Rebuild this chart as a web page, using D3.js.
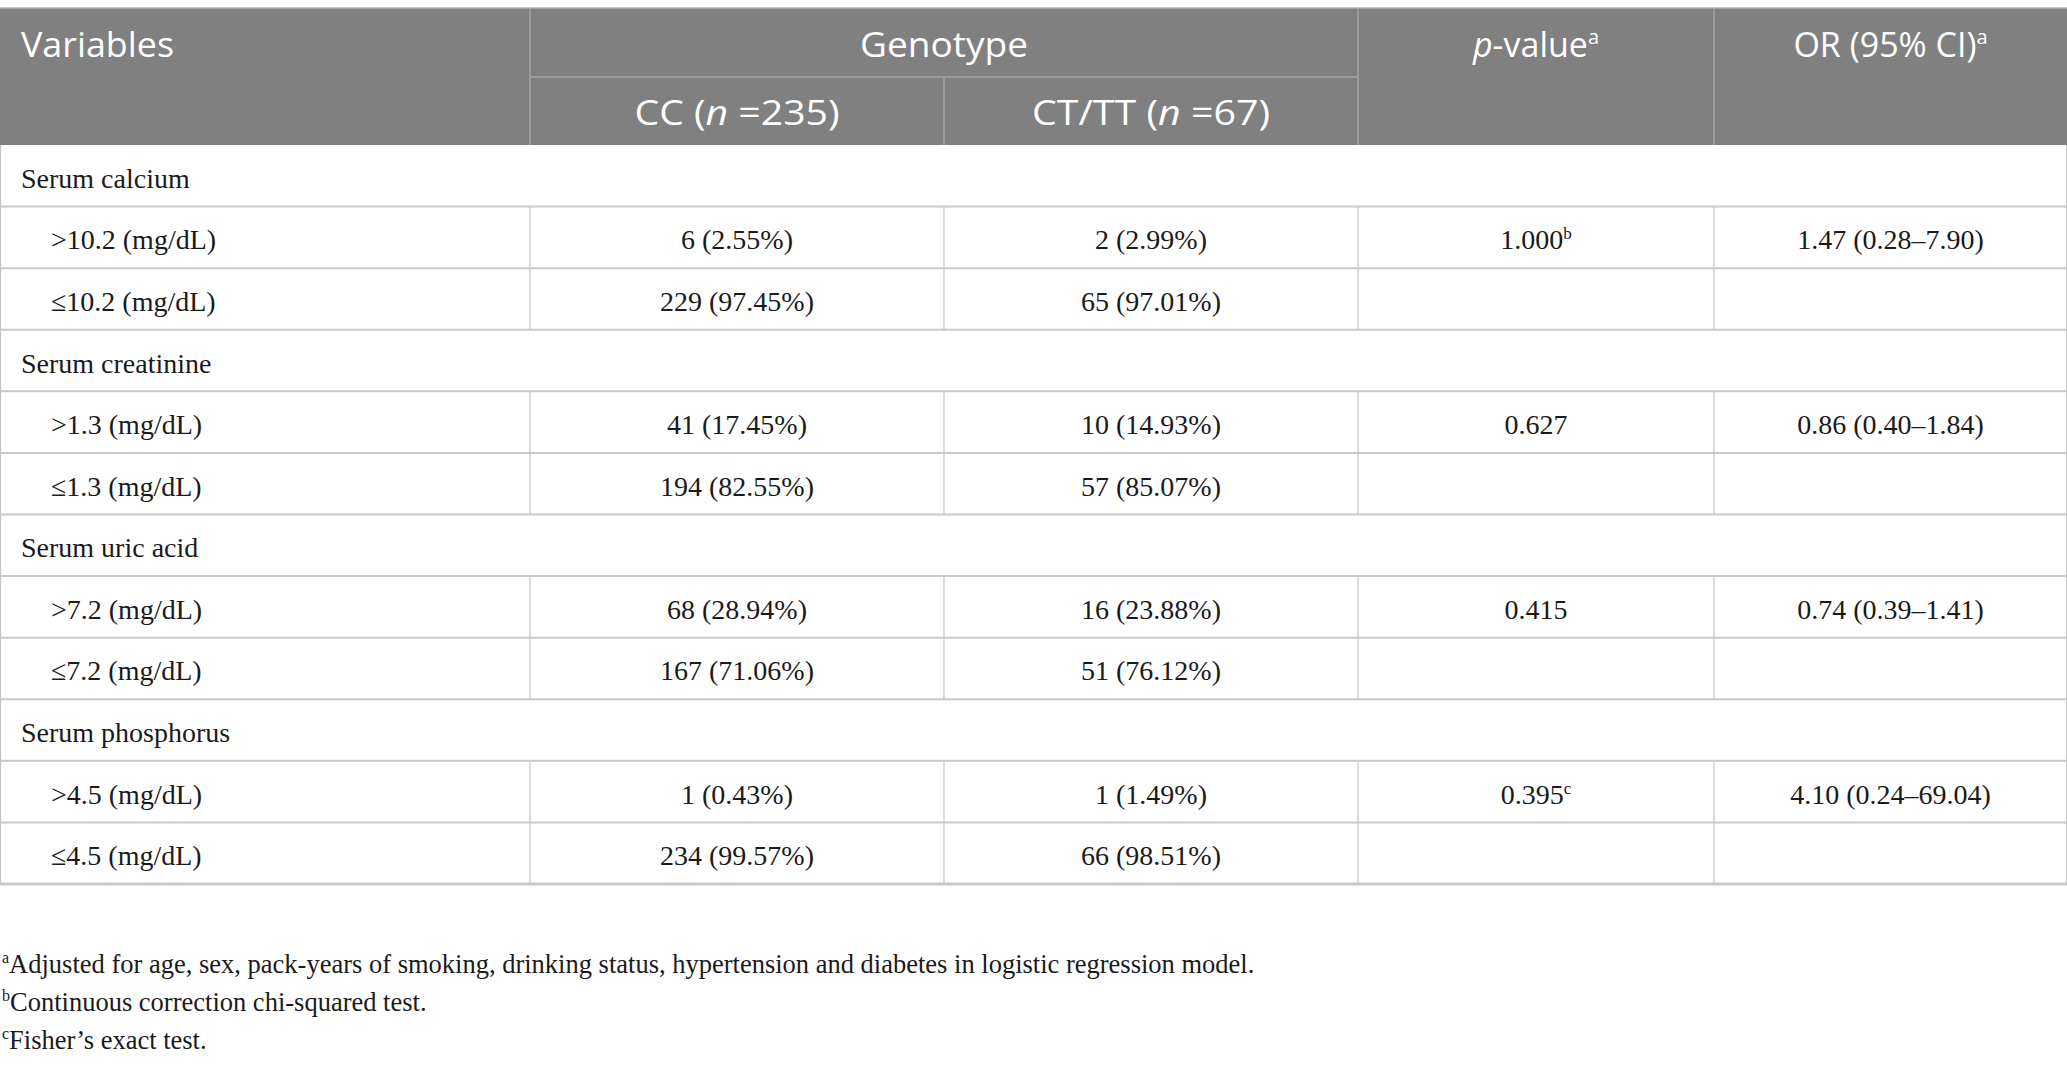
<!DOCTYPE html>
<html>
<head>
<meta charset="utf-8">
<script src="https://cdn.jsdelivr.net/npm/d3@7"></script>
<style>
    body { margin: 0; background: #ffffff; }
    svg { display: block; }
</style>
</head>
<body>
<div id="table"></div>
<script>
// table content
const groups = ["Serum calcium", "Serum creatinine", "Serum uric acid", "Serum phosphorus"];
const levels = [
    [">10.2 (mg/dL)", "≤10.2 (mg/dL)"],
    [">1.3 (mg/dL)", "≤1.3 (mg/dL)"],
    [">7.2 (mg/dL)", "≤7.2 (mg/dL)"],
    [">4.5 (mg/dL)", "≤4.5 (mg/dL)"]
];
const ccCounts = [6, 229, 41, 194, 68, 167, 1, 234];
const ccPct = [2.55, 97.45, 17.45, 82.55, 28.94, 71.06, 0.43, 99.57];
const ctCounts = [2, 65, 10, 57, 16, 51, 1, 66];
const ctPct = [2.99, 97.01, 14.93, 85.07, 23.88, 76.12, 1.49, 98.51];
const pValues = ["1.000", "0.627", "0.415", "0.395"];
const pNotes = ["b", "", "", "c"];
const orValues = [1.47, 0.86, 0.74, 4.10];
const ciLow = [0.28, 0.40, 0.39, 0.24];
const ciHigh = [7.90, 1.84, 1.41, 69.04];
const footnotes = [
    ["a", "Adjusted for age, sex, pack-years of smoking, drinking status, hypertension and diabetes in logistic regression model."],
    ["b", "Continuous correction chi-squared test."],
    ["c", "Fisher’s exact test."]
];

const width = 2067, height = 1066;
const colEdges = [0, 530, 944, 1358, 1714, 2067];
const headTop = 8, headMid = 77, headBottom = 145, tableBottom = 884;
const headColor = "#7f807f";
const sansFont = "'Open Sans', 'Noto Sans', sans-serif";
const serifFont = "'Liberation Serif', 'DejaVu Serif', serif";

const f2 = d3.format(".2f");

// flatten into rows: one section row per group, then its two levels
const rows = [];
groups.forEach((g, i) => {
    rows.push({ type: "group", label: g });
    levels[i].forEach((lv, j) => {
        const k = i * 2 + j;
        rows.push({
            type: "level",
            label: lv,
            cc: `${ccCounts[k]} (${f2(ccPct[k])}%)`,
            ct: `${ctCounts[k]} (${f2(ctPct[k])}%)`,
            p: j === 0 ? pValues[i] : "",
            note: j === 0 ? pNotes[i] : "",
            or: j === 0 ? `${f2(orValues[i])} (${f2(ciLow[i])}–${f2(ciHigh[i])})` : ""
        });
    });
});

const y = d3.scaleBand()
    .domain(d3.range(rows.length))
    .range([headBottom, tableBottom])
    .padding(0);

const colCenter = i => (colEdges[i] + colEdges[i + 1]) / 2;

const svg = d3.select("#table")
    .append("svg")
    .attr("width", width)
    .attr("height", height);

// header block
svg.append("rect")
    .attr("x", 0).attr("y", headTop)
    .attr("width", width).attr("height", headBottom - headTop)
    .attr("fill", headColor);

const headLines = svg.append("g").attr("stroke", "#a4a5a4").attr("stroke-width", 1.5);
[1, 3, 4].forEach(i => {
    headLines.append("line")
        .attr("x1", colEdges[i]).attr("x2", colEdges[i])
        .attr("y1", headTop).attr("y2", headBottom);
});
headLines.append("line")
    .attr("x1", colEdges[2]).attr("x2", colEdges[2])
    .attr("y1", headMid).attr("y2", headBottom);
headLines.append("line")
    .attr("x1", colEdges[1]).attr("x2", colEdges[3])
    .attr("y1", headMid).attr("y2", headMid);
svg.append("line")
    .attr("x1", 0).attr("x2", width)
    .attr("y1", headTop).attr("y2", headTop)
    .attr("stroke", "#b0b0b0").attr("stroke-width", 1.5);

const head = svg.append("g")
    .attr("fill", "#ffffff")
    .style("font-family", sansFont)
    .style("font-size", "34px");

const topBase = 57, subBase = 125;
// the original header face is rounder and wider than Open Sans, so a few labels get stretched
head.append("text").attr("x", 21).attr("y", topBase)
    .attr("textLength", 153).attr("lengthAdjust", "spacingAndGlyphs")
    .text("Variables");
head.append("text").attr("x", colEdges[2]).attr("y", topBase)
    .attr("text-anchor", "middle")
    .attr("textLength", 168).attr("lengthAdjust", "spacingAndGlyphs")
    .text("Genotype");

const ccHead = head.append("text").attr("x", colCenter(1)).attr("y", subBase)
    .attr("text-anchor", "middle")
    .attr("textLength", 205).attr("lengthAdjust", "spacingAndGlyphs");
ccHead.append("tspan").text("CC (");
ccHead.append("tspan").style("font-style", "italic").text("n");
ccHead.append("tspan").text(" =235)");

const ctHead = head.append("text").attr("x", colCenter(2)).attr("y", subBase)
    .attr("text-anchor", "middle")
    .attr("textLength", 238).attr("lengthAdjust", "spacingAndGlyphs");
ctHead.append("tspan").text("CT/TT (");
ctHead.append("tspan").style("font-style", "italic").text("n");
ctHead.append("tspan").text(" =67)");

const pHead = head.append("text").attr("x", colCenter(3)).attr("y", topBase).attr("text-anchor", "middle");
pHead.append("tspan").style("font-style", "italic").text("p");
pHead.append("tspan").text("-value");
pHead.append("tspan").attr("dy", -13).style("font-size", "20px").text("a");

const orHead = head.append("text").attr("x", colCenter(4)).attr("y", topBase).attr("text-anchor", "middle");
orHead.append("tspan").text("OR (95% CI)");
orHead.append("tspan").attr("dy", -13).style("font-size", "20px").text("a");

// body grid
const grid = svg.append("g");
rows.forEach((r, i) => {
    const y1 = y(i) + y.bandwidth();
    grid.append("line")
        .attr("x1", 0).attr("x2", width)
        .attr("y1", y1).attr("y2", y1)
        .attr("stroke", "#c9c9c9")
        .attr("stroke-width", i === rows.length - 1 ? 3 : 2);
    const xs = r.type === "group" ? [0.5, width - 0.5] : [0.5, ...colEdges.slice(1, 5), width - 0.5];
    xs.forEach(x => {
        grid.append("line")
            .attr("x1", x).attr("x2", x)
            .attr("y1", y(i)).attr("y2", y1)
            .attr("stroke", "#c4c4c4")
            .attr("stroke-width", 1.2);
    });
});

// body text
const body = svg.append("g")
    .attr("fill", "#1a1a1a")
    .style("font-family", serifFont)
    .style("font-size", "28px");

const base = i => y(i) + y.bandwidth() / 2 + 12;

rows.forEach((r, i) => {
    if (r.type === "group") {
        body.append("text").attr("x", 21).attr("y", base(i)).text(r.label);
        return;
    }
    body.append("text").attr("x", 51).attr("y", base(i)).text(r.label);
    body.append("text").attr("x", colCenter(1)).attr("y", base(i))
        .attr("text-anchor", "middle").text(r.cc);
    body.append("text").attr("x", colCenter(2)).attr("y", base(i))
        .attr("text-anchor", "middle").text(r.ct);
    if (r.p) {
        const t = body.append("text").attr("x", colCenter(3)).attr("y", base(i))
            .attr("text-anchor", "middle");
        t.append("tspan").text(r.p);
        if (r.note) t.append("tspan").attr("dy", -10).style("font-size", "17px").text(r.note);
    }
    if (r.or) {
        body.append("text").attr("x", colCenter(4)).attr("y", base(i))
            .attr("text-anchor", "middle").text(r.or);
    }
});

// footnotes
const notes = svg.append("g")
    .attr("fill", "#1a1a1a")
    .style("font-family", serifFont)
    .style("font-size", "26.5px");

footnotes.forEach((fn, i) => {
    const t = notes.append("text").attr("x", 2).attr("y", 973 + i * 38);
    t.append("tspan").attr("dy", -10).style("font-size", "16px").text(fn[0]);
    t.append("tspan").attr("dy", 10).text(fn[1]);
});
</script>
</body>
</html>
